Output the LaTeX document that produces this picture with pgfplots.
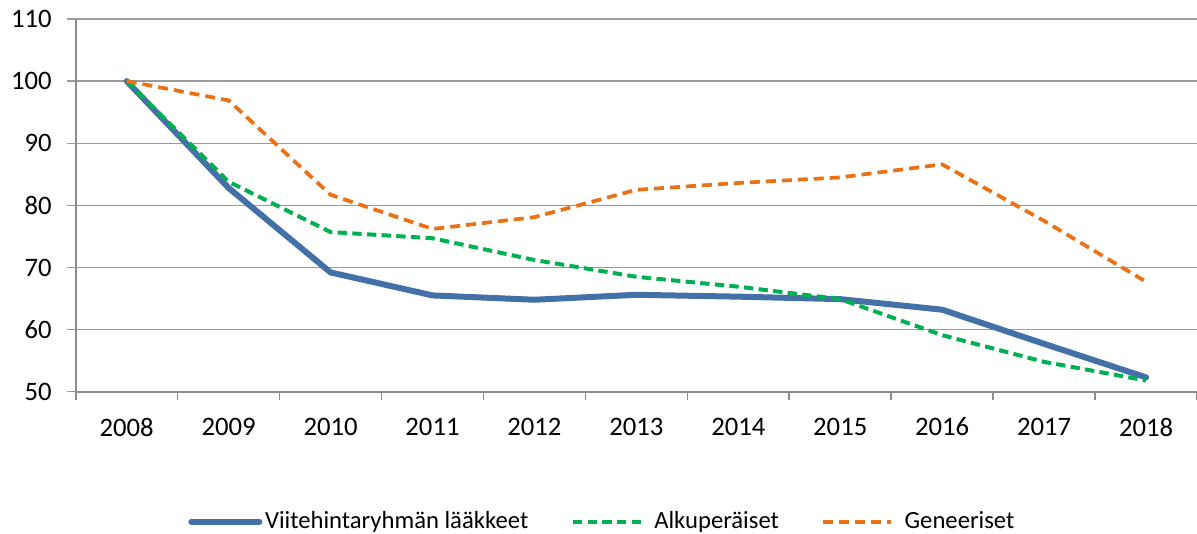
\documentclass[border=0pt]{standalone}
\usepackage{pgfplots}
\pgfplotsset{compat=1.18}
\usepackage{fontspec}
\setmainfont{Carlito}
\definecolor{cblue}{RGB}{68,112,168}
\definecolor{cgreen}{RGB}{0,176,80}
\definecolor{corange}{RGB}{233,113,22}
\definecolor{cgrid}{RGB}{155,155,155}
\definecolor{caxis}{RGB}{140,140,140}
\begin{document}
\fontsize{20}{24}\selectfont
\begin{tikzpicture}
\begin{axis}[
  name=ax,
  scale only axis,
  width=840.9pt, height=279.5pt,
  xmin=-0.5, xmax=10.5, ymin=50, ymax=110,
  axis x line*=bottom, axis y line*=left,
  axis line style={-, draw=caxis, line width=1.4pt},
  xtick={0,...,10},
  xticklabels={2008,2009,2010,2011,2012,2013,2014,2015,2016,2017,2018},
  minor xtick={-0.5,0.5,...,10.5},
  major x tick style={draw=none},
  minor x tick style={draw=caxis, line width=1.2pt},
  ytick={50,60,...,110},
  y tick style={draw=cgrid, line width=1pt},
  tick align=outside,
  major tick length=6.75pt,
  minor tick length=6pt,
  ymajorgrids,
  grid style={draw=cgrid, line width=1pt},
  tick label style={font=\fontsize{20}{24}\selectfont},
  /pgf/number format/assume math mode=true,
  yticklabel style={xshift=-4.5pt},
  xticklabel style={yshift=-6pt},
  clip=false,
  legend columns=3,
  legend style={at={(rel axis cs:0.1002,-0.349)}, anchor=west, draw=none,
    font=\fontsize{18.5}{22}\selectfont, /tikz/every even column/.append style={column sep=30pt},
    inner sep=0pt},
  legend cell align=left,
  legend image code/.code={\draw[#1] (0pt,0pt) -- (51pt,0pt);},
]
\addplot[cblue, line width=4.5pt, line cap=round, line join=round] coordinates {
(0,100) (1,82.8) (2,69.2) (3,65.5) (4,64.8) (5,65.6) (6,65.3) (7,64.9) (8,63.2) (9,57.7) (10,52.3)};
\addlegendentry{Viitehintaryhmän lääkkeet}
\addplot[cgreen, line width=3pt, dash pattern=on 7pt off 4pt, line join=round] coordinates {
(0,100) (1,83.8) (2,75.7) (3,74.7) (4,71.2) (5,68.5) (6,66.9) (7,64.9) (8,59.1) (9,54.8) (10,51.8)};
\addlegendentry{\hspace*{6.5pt}Alkuperäiset}
\addplot[corange, line width=2.8pt, dash pattern=on 7.5pt off 4.5pt, line join=round] coordinates {
(0,100) (1,96.9) (2,81.7) (3,76.2) (4,78.1) (5,82.5) (6,83.6) (7,84.5) (8,86.6) (9,77.5) (10,67.7)};
\addlegendentry{\hspace*{6.5pt}Geneeriset}
\end{axis}
\pgfresetboundingbox
\path (ax.south west) ++(-56.8pt,-106.7pt) coordinate (bl);
\path (ax.north east) ++(0pt,14.25pt) coordinate (tr);
\path[use as bounding box] (bl) rectangle (tr);
\end{tikzpicture}
\end{document}
